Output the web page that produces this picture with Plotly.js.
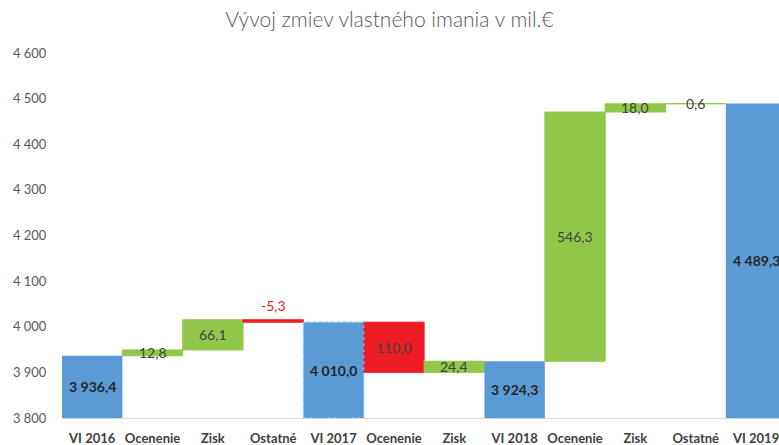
<!DOCTYPE html>
<html>
<head>
<meta charset="utf-8">
<script src="https://cdn.plot.ly/plotly-3.0.1.min.js"></script>
<style>html,body{margin:0;padding:0;background:#fff;overflow:hidden}#chart{width:779px;height:445px}</style>
</head>
<body>
<div id="chart"></div>
<script>
const categories = ['VI 2016','Ocenenie','Zisk','Ostatné','VI 2017','Ocenenie','Zisk','VI 2018','Ocenenie','Zisk','Ostatné','VI 2019'];
const measures = ['absolute','relative','relative','relative','absolute','relative','relative','absolute','relative','relative','relative','absolute'];
const values = [3936.4, 12.8, 66.1, -5.3, 4010.0, -110.0, 24.4, 3924.3, 546.3, 18.0, 0.6, 4489.3];
const yTicks = [3800, 3900, 4000, 4100, 4200, 4300, 4400, 4500, 4600];

const BLUE = '#5B9BD5', GREEN = '#92C84A', RED = '#ED1C24';
const yMin = 3800, yMax = 4600;

function fmt(v, showSign) {
  const neg = v < 0;
  let s = Math.abs(v).toFixed(1);
  let [i, d] = s.split('.');
  i = i.replace(/\B(?=(\d{3})+(?!\d))/g, ' ');
  return (neg && showSign ? '-' : '') + i + ',' + d;
}

const idx = categories.map((_, i) => i);
let running = 0;
const annotations = [];
const shapes = [];
values.forEach((v, i) => {
  let lo, hi;
  if (measures[i] === 'absolute') {
    running = v; lo = yMin; hi = v;
    annotations.push({x: i, y: (lo + hi) / 2, text: fmt(v), showarrow: false,
      font: {family: 'Lato, Liberation Sans, sans-serif', size: 14, color: '#262626', weight: 'bold'}});
  } else {
    const prev = running; running = prev + v;
    lo = Math.min(prev, running); hi = Math.max(prev, running);
    if (v < 0 && Math.abs(v) < 10) {
      annotations.push({x: i, y: hi, yanchor: 'bottom', yshift: 4, text: fmt(v, true), showarrow: false,
        font: {family: 'Lato, Liberation Sans, sans-serif', size: 14, color: RED}});
    } else {
      annotations.push({x: i, y: (lo + hi) / 2, text: fmt(v), showarrow: false,
        font: {family: 'Lato, Liberation Sans, sans-serif', size: 14, color: '#404040'}});
    }
  }
});
const hiIdx = categories.indexOf('VI 2017');
shapes.push({type: 'rect', xref: 'x', yref: 'y', x0: hiIdx - 0.5, x1: hiIdx + 0.5, y0: yMin, y1: values[hiIdx],
  line: {color: '#7EC8F0', width: 1.2, dash: 'dot'}, fillcolor: 'rgba(0,0,0,0)', layer: 'above'});

const trace = {
  type: 'waterfall',
  x: idx,
  y: values,
  measure: measures,
  base: 0,
  textposition: 'none',
  connector: {visible: false},
  increasing: {marker: {color: GREEN, line: {color: GREEN, width: 1}}},
  decreasing: {marker: {color: RED, line: {color: RED, width: 1}}},
  totals: {marker: {color: BLUE, line: {color: BLUE, width: 0}}},
  hoverinfo: 'none'
};

const layout = {
  width: 779, height: 445,
  margin: {l: 62, r: 0, t: 53, b: 27, pad: 0},
  paper_bgcolor: '#fff', plot_bgcolor: '#fff',
  separators: ', ',
  showlegend: false,
  waterfallgap: 0,
  title: {text: 'Vývoj zmiev vlastného imania v mil.€', x: 0.5, xref: 'container', xanchor: 'center', y: 0.955, yanchor: 'middle',
    font: {family: 'Lato, Liberation Sans, sans-serif', size: 21, color: '#595959', weight: 300}},
  xaxis: {
    range: [-0.5, 11.38], tickvals: idx, ticktext: categories,
    showgrid: false, zeroline: false, showline: true, linecolor: '#D9D9D9', linewidth: 1,
    ticks: 'outside', ticklen: 8, tickcolor: 'rgba(0,0,0,0)',
    ticklabeloverflow: 'allow',
    tickfont: {family: 'Lato, Liberation Sans, sans-serif', size: 13, color: '#404040', weight: 'bold'},
    automargin: false, fixedrange: true
  },
  yaxis: {
    range: [yMin, yMax], tickvals: yTicks, tickformat: ',d',
    showgrid: false, zeroline: false, showline: false,
    ticks: 'outside', ticklen: 12, tickcolor: 'rgba(0,0,0,0)',
    tickfont: {family: 'Lato, Liberation Sans, sans-serif', size: 13, color: '#595959'},
    automargin: false, fixedrange: true
  },
  annotations: annotations,
  shapes: shapes
};

Plotly.newPlot('chart', [trace], layout, {staticPlot: true, displayModeBar: false});
</script>
</body>
</html>
